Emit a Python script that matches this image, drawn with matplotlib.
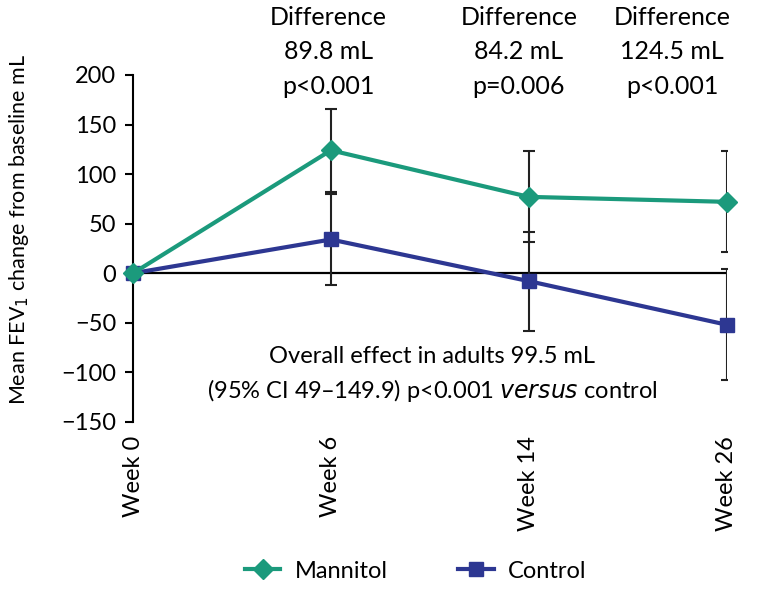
import matplotlib.pyplot as plt

plt.rcParams['font.family'] = ['Lato', 'DejaVu Sans']

# data
weeks = ['Week 0', 'Week 6', 'Week 14', 'Week 26']
mannitol = [0, 124, 77, 72]
mannitol_err = [0, 42, 46, 51]
control = [0, 34, -8, -52]
control_err = [0, 46, 50, 56]
diff_text = ['Difference\n89.8 mL\np<0.001', 'Difference\n84.2 mL\np=0.006',
             'Difference\n124.5 mL\np<0.001']

green = '#1b9a7c'
blue = '#2d3792'

fig = plt.figure(figsize=(7.78, 5.95), dpi=100)
ax = fig.add_axes([0.171, 0.291, 0.763, 0.583])
x = list(range(len(weeks)))

ax.axhline(0, color='black', lw=1.6, zorder=1)
ax.errorbar(x[1:], mannitol[1:], yerr=mannitol_err[1:], fmt='none', ecolor='#222222',
            elinewidth=1.5, capsize=4, capthick=1.5, zorder=2)
ax.errorbar(x[1:], control[1:], yerr=control_err[1:], fmt='none', ecolor='#222222',
            elinewidth=1.5, capsize=4, capthick=1.5, zorder=2)
ax.plot(x, mannitol, color=green, lw=3, marker='D', ms=10, label='Mannitol', zorder=4, clip_on=False)
ax.plot(x, control, color=blue, lw=3, marker='s', ms=9.5, label='Control', zorder=3, clip_on=False)

ax.set_xlim(0, 3)
ax.set_ylim(-150, 200)
ax.set_yticks(range(-150, 201, 50))
ax.set_yticklabels([str(v).replace('-', '\u2212') for v in range(-150, 201, 50)])
ax.set_xticks(x)
ax.set_xticklabels(weeks, rotation=90, fontsize=17)
ax.tick_params(axis='x', length=0, pad=10)
ax.tick_params(axis='y', labelsize=17, direction='out', length=6, width=1.5, pad=6)
for s in ['top', 'right', 'bottom']:
    ax.spines[s].set_visible(False)
ax.spines['left'].set_linewidth(1.5)

fig.text(0.025, 0.615, 'Mean FEV$_1$ change from baseline mL', rotation=90,
         ha='center', va='center', fontsize=15.5)

# difference annotations
for xi, t in zip([0.422, 0.667, 0.864], diff_text):
    fig.text(xi, 0.99, t, ha='center', va='top', fontsize=18, linespacing=1.6)

ax.text(1.51, -84, 'Overall effect in adults 99.5 mL', ha='center', va='center', fontsize=17)
ax.text(1.51, -118, '(95% CI 49\u2013149.9) p<0.001 $\\it{versus}$ control', ha='center',
        va='center', fontsize=17)

ax.legend(loc='center', bbox_to_anchor=(0.476, -0.43), ncol=2, frameon=False,
          fontsize=17, handlelength=1.5, handletextpad=0.6, columnspacing=3)

fig.savefig('out.png', dpi=100)
